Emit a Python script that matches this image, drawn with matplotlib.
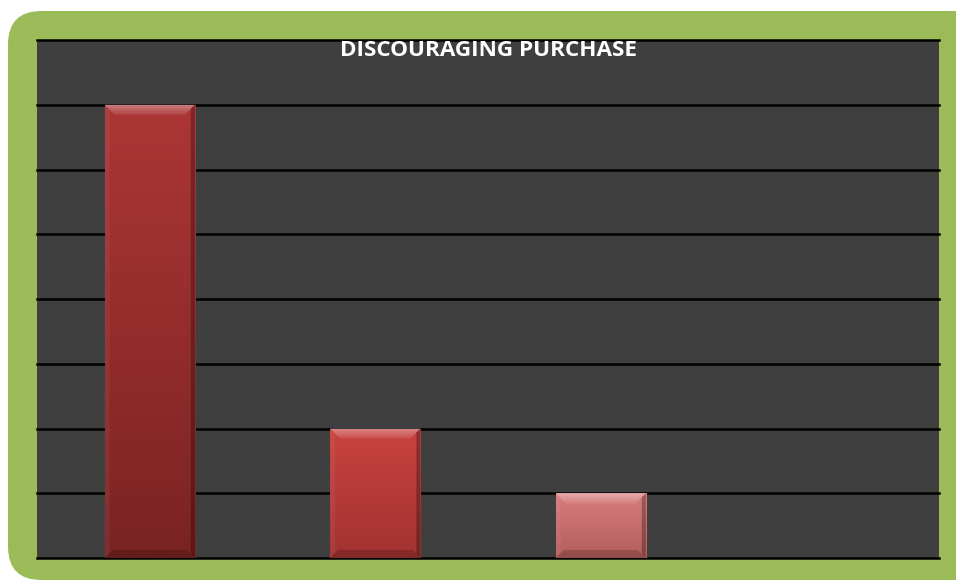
import numpy as np
import matplotlib
matplotlib.use("Agg")
import matplotlib.pyplot as plt
from matplotlib.patches import FancyBboxPatch, Polygon
from matplotlib.colors import LinearSegmentedColormap

categories = ["A", "B", "C", "D"]
values = [7, 2, 1, 0]
title = "DISCOURAGING PURCHASE"
bar_top_colors = ["#ad3636", "#c9433f", "#d87c7c"]
bar_bottom_colors = ["#7a2323", "#a23230", "#b45e5e"]

W, H = 956, 583
fig = plt.figure(figsize=(W / 100, H / 100), dpi=100)
fig.patch.set_facecolor("white")

# green rounded frame
frame = FancyBboxPatch((8 / W, 3 / H), 990 / W, 569 / H,
                       boxstyle="round,pad=0,rounding_size=0.035",
                       transform=fig.transFigure, facecolor="#9bbb59",
                       edgecolor="none", mutation_aspect=W / H, zorder=-5)
fig.patches.append(frame)

ax_l, ax_r, ax_t, ax_b = 37, 939, 40, 558
ax = fig.add_axes([ax_l / W, 1 - ax_b / H, (ax_r - ax_l) / W, (ax_b - ax_t) / H])
ax.set_zorder(1)
ax.set_facecolor("#3f3f3f")
ymax = 8
for s in ax.spines.values():
    s.set_visible(False)
ax.set_xticks([])
ax.set_yticks([])
for y in range(0, ymax + 1):
    ax.axhline(y, color="black", lw=1.8, zorder=1, clip_on=False)

width = 0.4
bars = ax.bar(range(len(categories)), values, width=width, color="none",
              edgecolor="none", zorder=2)

px_x = (ax_r - ax_l) / (len(categories))        # pixels per x unit
px_y = (ax_b - ax_t) / ymax                      # pixels per y unit
bev = 10
dx, dy = bev / px_x, bev / px_y

for i, b in enumerate(bars):
    h = b.get_height()
    if h <= 0:
        continue
    x0, x1 = b.get_x(), b.get_x() + b.get_width()
    cmap = LinearSegmentedColormap.from_list(
        "g", [bar_bottom_colors[i], bar_top_colors[i]])
    grad = np.linspace(0, 1, 256).reshape(-1, 1)
    im = ax.imshow(grad, cmap=cmap, origin="lower", aspect="auto",
                   extent=(x0, x1, 0, h), zorder=2.5)
    im.set_clip_path(b)
    # top bevel as a soft highlight fading downward
    n = 6
    for k in range(n):
        f0, f1 = k / n, (k + 1) / n
        ax.add_patch(Polygon(
            [(x0 + dx * f0, h - dy * f0), (x1 - dx * f0, h - dy * f0),
             (x1 - dx * f1, h - dy * f1), (x0 + dx * f1, h - dy * f1)],
            closed=True, facecolor="white", alpha=0.30 * (1 - f0) + 0.05,
            edgecolor="none", zorder=3))
    bot = Polygon([(x0, 0), (x1, 0), (x1 - dx * 0.8, dy * 0.8), (x0 + dx * 0.8, dy * 0.8)],
                  closed=True, facecolor="black", alpha=0.18, edgecolor="none",
                  zorder=3)
    left = Polygon([(x0, 0), (x0 + dx * 0.5, dy * 0.5), (x0 + dx * 0.5, h - dy * 0.5),
                    (x0, h)], closed=True, facecolor="white", alpha=0.05,
                   edgecolor="none", zorder=3)
    right = Polygon([(x1, 0), (x1 - dx * 0.4, dy * 0.4), (x1 - dx * 0.4, h - dy * 0.4),
                     (x1, h)], closed=True, facecolor="black", alpha=0.28,
                    edgecolor="none", zorder=3)
    for p in (bot, left, right):
        ax.add_patch(p)

ax.set_xlim(-0.5, len(categories) - 0.5)
ax.set_ylim(0, ymax)

ax.text(0.5, 1 - 10 / (ax_b - ax_t), title, transform=ax.transAxes,
        ha="center", va="center", color="white", fontsize=16.2,
        fontweight="bold", family=["Open Sans", "DejaVu Sans"], zorder=5)

fig.savefig("out.png", dpi=100, facecolor=fig.get_facecolor())
